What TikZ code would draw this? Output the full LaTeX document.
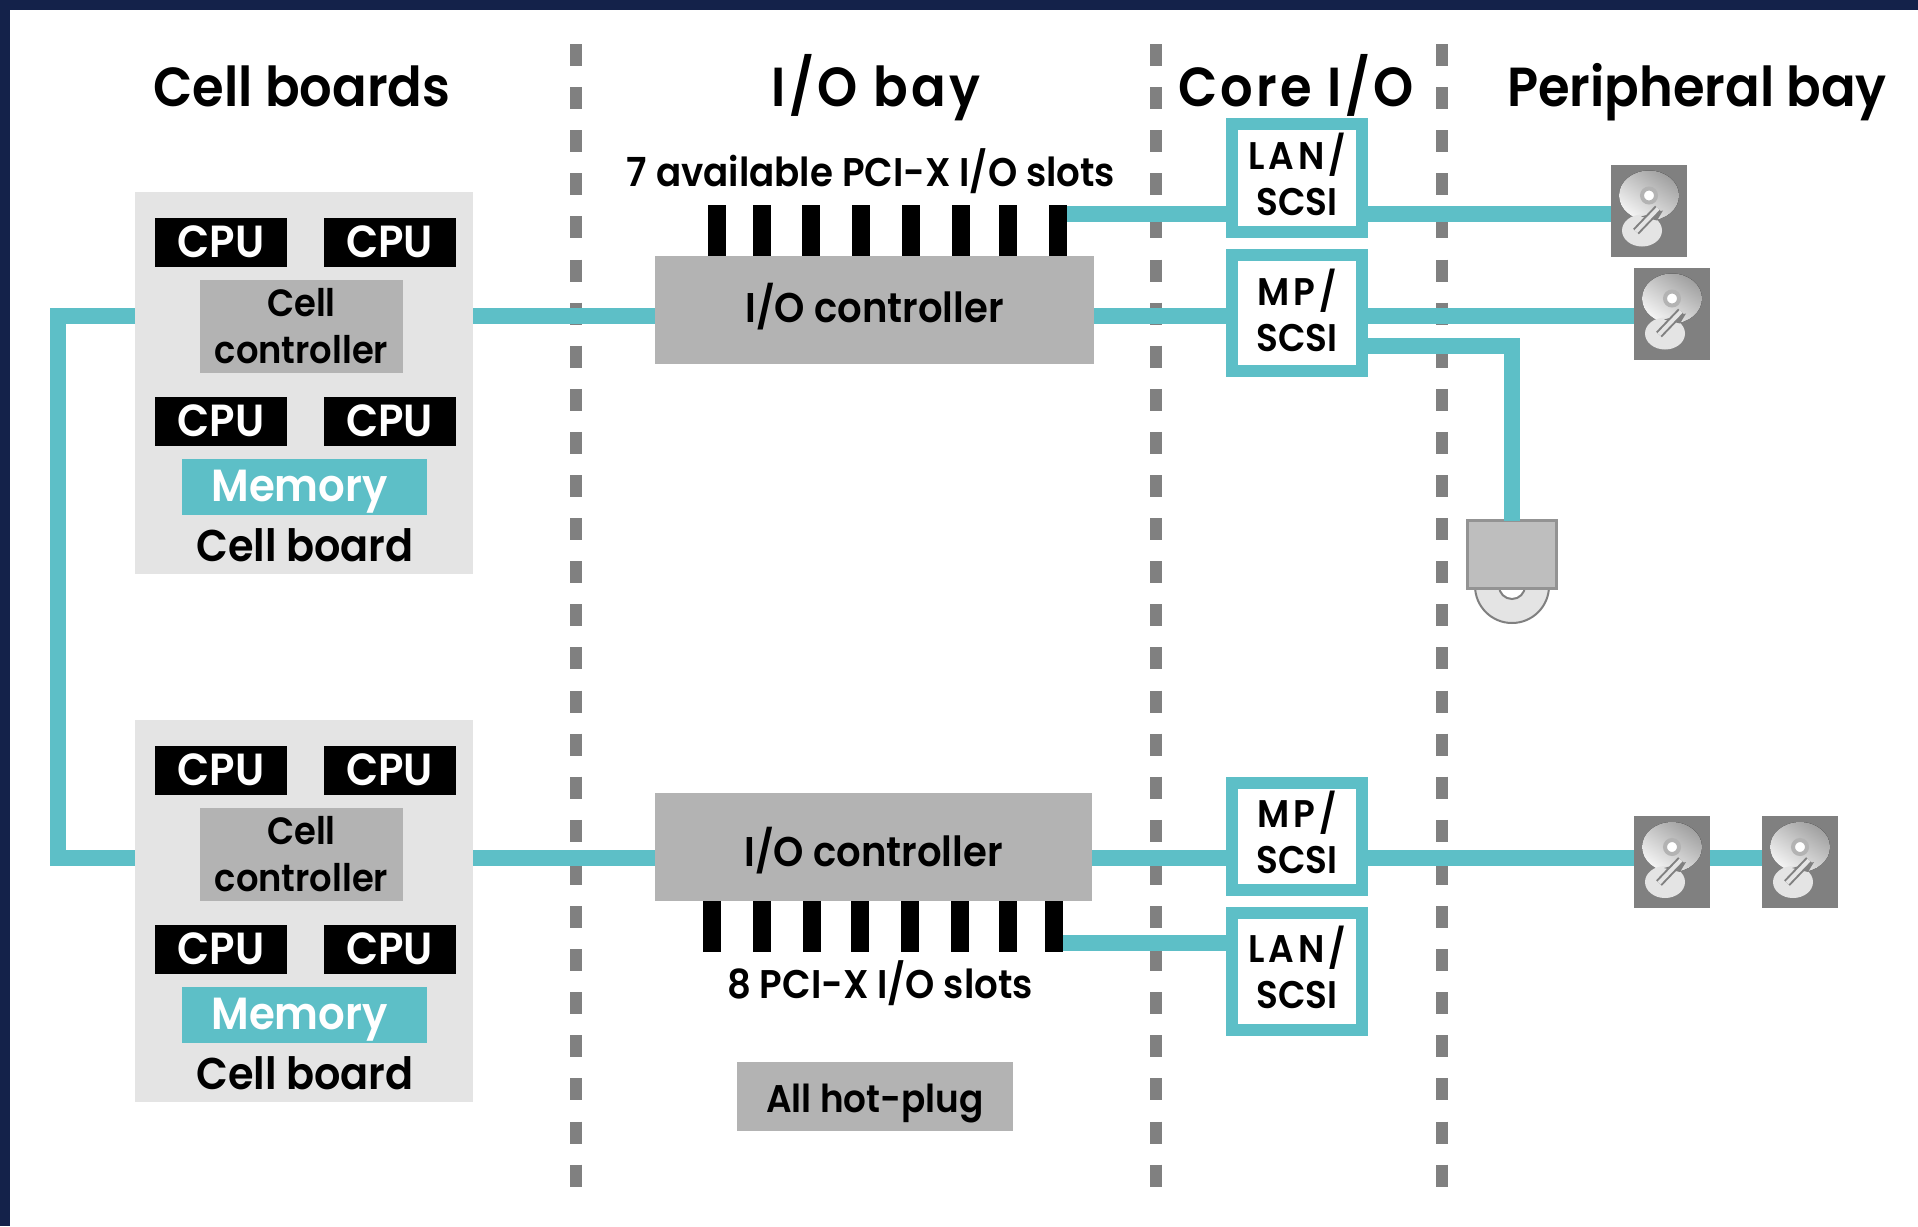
\documentclass[tikz,border=0pt]{standalone}
\usepackage{fontspec}
\setmainfont{Poppins}[UprightFont=* SemiBold,FakeStretch=0.93]
\usepackage{tikz}
\usetikzlibrary{calc}
\definecolor{navy}{HTML}{14224A}
\definecolor{teal1}{HTML}{5DBFC7}
\definecolor{board}{HTML}{E4E4E4}
\definecolor{ctrl}{HTML}{B3B3B3}
\definecolor{sep}{HTML}{808080}
\newcommand\shiftup[2]{\raisebox{#1}[\height][\depth]{#2}}
\newcommand\stackup[3]{\shiftup{#1}{\begin{tabular}{@{}c@{}}{\addfontfeature{LetterSpace=10}#2}\\#3\end{tabular}}}

\begin{document}
\begin{tikzpicture}[x=1pt,y=-1pt,
	every node/.style={inner sep=0pt,outer sep=0pt,align=center},
	head/.style={font=\fontsize{55}{60}\selectfont,anchor=base},
	headwide/.style={font=\fontsize{55}{60}\selectfont\addfontfeature{LetterSpace=6},anchor=base},
	lab/.style={font=\fontsize{40}{46}\selectfont},
	boardbox/.style={fill=board,minimum width=338pt,minimum height=382pt},
	cpu/.style={fill=black,text=white,minimum width=132pt,minimum height=49pt,font=\fontsize{45}{46}\selectfont},
	cellctl/.style={font=\fontsize{38}{47}\selectfont,fill=ctrl,minimum width=203pt,minimum height=93pt},
	mem/.style={fill=teal1,text=white,minimum width=245pt,minimum height=56pt,font=\fontsize{45}{46}\selectfont},
	ioctl/.style={font=\fontsize{41.5}{46}\selectfont,fill=ctrl,minimum height=108pt},
	slot/.style={fill=black,minimum width=18pt,minimum height=51pt},
	corebox/.style={font=\fontsize{38.5}{46}\selectfont,draw=teal1,fill=white,line width=12pt,minimum width=130pt},
	diskbox/.style={fill=sep,minimum width=76pt,minimum height=92pt},
	link/.style={draw=teal1,line width=16pt},
	septor/.style={draw=sep,line width=12pt,dash pattern=on 22pt off 21.1pt},
	disk/.pic={
		\fill[top color=sep!75!white,bottom color=white!92!sep,shading angle=-35] (0,-15) ellipse (30 and 25);
		\fill[board] (-7,20) ellipse (20 and 16);
		\fill[sep] (-8,6) -- (14,0) -- (8,10) -- cycle;
		\draw[sep,line width=8pt] (-13,21) -- (9,-2);
		\draw[board,line width=4pt] (-13,21) -- (9,-2);
		\fill[white,draw=ctrl,line width=4pt] (0,-15) circle (7);
	}]
\fill[navy] (0,0) rectangle (1918,1226);
\fill[white] (10,10) rectangle (1918,1226);
\useasboundingbox (0,0) rectangle (1918,1226);

% separators
\draw[septor] (576,44) -- (576,1188);
\draw[septor] (1156,44) -- (1156,1188);
\draw[septor] (1442,44) -- (1442,1188);

\node[head] (h1) at (302,106) {Cell boards};
\node[headwide] (h2) at (876,106) {I/O bay};
\node[headwide] (h3) at (1296,106) {Core I/O};
\node[head] (h4) at (1697,106) {Peripheral bay};

% cell boards
\foreach \n/\dy in {1/0,2/528}{
	\node[boardbox] (bd\n) at (304,383+\dy) {};
	\node[cpu] (cpu\n a) at (221,242+\dy) {CPU};
	\node[cpu] (cpu\n b) at (389.5,242+\dy) {CPU};
	\node[cellctl] (cc\n) at (301.5,326.5+\dy) {Cell\\controller};
	\node[cpu] (cpu\n c) at (221,421+\dy) {CPU};
	\node[cpu] (cpu\n d) at (389.5,421+\dy) {CPU};
	\node[mem] (mem\n) at (304.5,487+\dy) {\shiftup{-5pt}{Memory}\hspace{10pt}};
	\node[font=\fontsize{44.5}{46}\selectfont,anchor=base] (cb\n) at (305,561+\dy) {Cell board};
}

% I/O bay
\node[ioctl,minimum width=439pt] (io1) at (874.5,309.5) {\shiftup{2.5pt}{I/O controller}};
\node[ioctl,minimum width=437pt] (io2) at (873.5,847) {\shiftup{-4pt}{I/O controller}};
\foreach \i/\x in {1/717,2/762,3/811,4/861,5/910.5,6/960.5,7/1008,8/1058}
	\node[slot] (sa\i) at (\x,230.5) {};
\foreach \i/\x in {1/712,2/762,3/812,4/859.5,5/910,6/960,7/1007.5,8/1054}
	\node[slot] (sb\i) at (\x,926.5) {};
\node[lab,anchor=base] (sl1) at (871,186) {7 available PCI-X I/O slots};
\node[lab,anchor=base] (sl2) at (880,998) {8 PCI-X I/O slots};
\node[font=\fontsize{38.5}{46}\selectfont,fill=ctrl,minimum width=276pt,minimum height=69pt] (hot) at (875,1096.5) {\shiftup{-7pt}{All hot-plug}};

% core I/O
\node[corebox,minimum height=108pt] (lan1) at (1297,178) {\stackup{-3pt}{LAN/}{SCSI}};
\node[corebox,minimum height=116pt] (mp1) at (1297,313) {\stackup{-4.5pt}{MP/}{SCSI}};
\node[corebox,minimum height=107pt] (mp2) at (1297,836.5) {\stackup{-2.5pt}{MP/}{SCSI}};
\node[corebox,minimum height=117pt] (lan2) at (1297,971.5) {\stackup{-2.5pt}{LAN/}{SCSI}};

% peripheral bay
\node[diskbox] (d1) at (1649,210.5) {};
\node[diskbox] (d2) at (1672,313.5) {};
\node[diskbox] (d3) at (1672,862) {};
\node[diskbox] (d4) at (1800,862) {};
\foreach \d in {d1,d2,d3,d4}
	\path (\d) pic {disk};
\fill[board,draw=sep,line width=2pt] (1512,586) circle (37);
\fill[white,draw=sep,line width=2pt] (1512,586) circle (13);
\node[fill=ctrl!85!white,draw=sep!85!white,line width=3pt,minimum width=89pt,minimum height=68pt] (opt) at (1512,554.5) {};

\coordinate (yb1) at (0,316);
\coordinate (yb2) at (0,858);
\coordinate (yl1) at (0,214);
\coordinate (yl2) at (0,943);
\coordinate (ym1) at (0,346);
\coordinate (xl) at (58,0);
\path[link]
(bd1.east |- yb1) edge (io1.west |- yb1)
(bd2.east |- yb2) edge (io2.west |- yb2)
(io1.east |- yb1) edge (mp1.west |- yb1)
(io2.east |- yb2) edge (mp2.west |- yb2)
(sa8.east |- yl1) edge (lan1.west |- yl1)
(sb8.east |- yl2) edge (lan2.west |- yl2)
(lan1.east |- yl1) edge (d1.west |- yl1)
(mp1.east |- yb1) edge (d2.west |- yb1)
(mp2.east |- yb2) edge (d3.west |- yb2)
(d3.east |- yb2) edge (d4.west |- yb2)
;
\draw[link] (mp1.east |- ym1) -| (opt.north);
\draw[link] (bd1.west |- yb1) -| (xl |- yb2) -- (bd2.west |- yb2);
\end{tikzpicture}
\end{document}
